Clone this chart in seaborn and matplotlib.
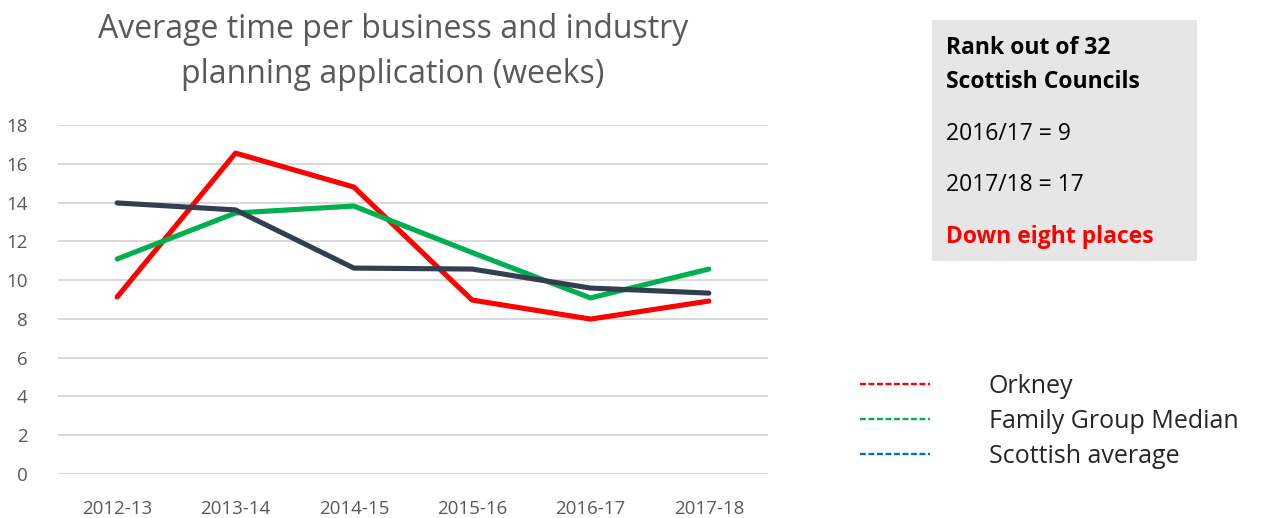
import matplotlib
matplotlib.use("Agg")
import matplotlib.pyplot as plt
from matplotlib.lines import Line2D
from matplotlib.patches import Rectangle
import seaborn as sns
import pandas as pd

years = ["2012-13", "2013-14", "2014-15", "2015-16", "2016-17", "2017-18"]
orkney = [9.13, 16.55, 14.8, 8.97, 7.99, 8.92]
family_median = [11.09, 13.46, 13.82, 11.42, 9.08, 10.57]
scottish_avg = [13.98, 13.62, 10.62, 10.57, 9.59, 9.33]
series_names = ["Orkney", "Family Group Median", "Scottish average"]
line_colors = ["#ff0000", "#00b050", "#333f50"]
legend_colors = ["#ff0000", "#00b050", "#0070c0"]
yticks = [0, 2, 4, 6, 8, 10, 12, 14, 16, 18]

sns.set_theme(style="white")
plt.rcParams["font.family"] = ["Open Sans", "DejaVu Sans"]

df = pd.DataFrame({
    "year": years * 3,
    "value": orkney + family_median + scottish_avg,
    "series": sum([[n] * len(years) for n in series_names], []),
})
df["x"] = df["year"].map({y: i for i, y in enumerate(years)})

fig = plt.figure(figsize=(12.63, 5.18), dpi=100)
ax = fig.add_axes([58 / 1263, 1 - 474 / 518, 710 / 1263, 349 / 518])

sns.lineplot(data=df, x="x", y="value", hue="series", hue_order=series_names,
             palette=dict(zip(series_names, line_colors)), linewidth=3.7,
             ax=ax, legend=False, sort=False)
for ln in ax.lines:
    ln.set_solid_capstyle("round")
    ln.set_solid_joinstyle("round")

ax.set_xlim(-0.5, len(years) - 0.5)
ax.set_ylim(0, 18)
ax.set_yticks(yticks)
ax.set_xticks(range(len(years)))
ax.set_xticklabels(years)
ax.set_xlabel("")
ax.set_ylabel("")
ax.grid(axis="y", color="#d9d9d9", linewidth=1.4)
ax.set_axisbelow(True)
for s in ax.spines.values():
    s.set_visible(False)
ax.tick_params(axis="both", length=0, labelcolor="#595959", labelsize=13.5)
ax.tick_params(axis="y", pad=22)
ax.tick_params(axis="x", pad=19)

fig.text(393 / 1263, 1 - 52 / 518,
         "Average time per business and industry\nplanning application (weeks)",
         ha="center", va="center", fontsize=23, color="#595959",
         linespacing=1.45)

# info box
fig.patches.append(Rectangle((932 / 1263, 1 - 261 / 518), 265 / 1263, 241 / 518,
                             transform=fig.transFigure, facecolor="#e7e6e6",
                             edgecolor="none", zorder=0))
box_font = ["Open Sans", "DejaVu Sans"]
fig.text(946 / 1263, 1 - 65 / 518, "Rank out of 32\nScottish Councils",
         ha="left", va="center", fontsize=16.5, fontweight="bold", color="black",
         linespacing=1.6, family=box_font)
fig.text(946 / 1263, 1 - 134 / 518, "2016/17 = 9", ha="left", va="center",
         fontsize=16.5, color="black", family=box_font)
fig.text(946 / 1263, 1 - 185 / 518, "2017/18 = 17", ha="left", va="center",
         fontsize=16.5, color="black", family=box_font)
fig.text(946 / 1263, 1 - 237 / 518, "Down eight places", ha="left", va="center",
         fontsize=16.5, fontweight="bold", color="#ff0000", family=box_font)

# legend
handles = [Line2D([0], [0], color=c, linestyle=(0, (2.5, 1.1)), linewidth=1.7)
           for c in legend_colors]
fig.legend(handles, series_names, loc="upper left",
           bbox_to_anchor=(850 / 1263, 1 - 364 / 518), frameon=False,
           fontsize=18, handlelength=2.8, handletextpad=2.35,
           labelspacing=0.4, borderaxespad=0)

fig.savefig("out.png", dpi=100)
